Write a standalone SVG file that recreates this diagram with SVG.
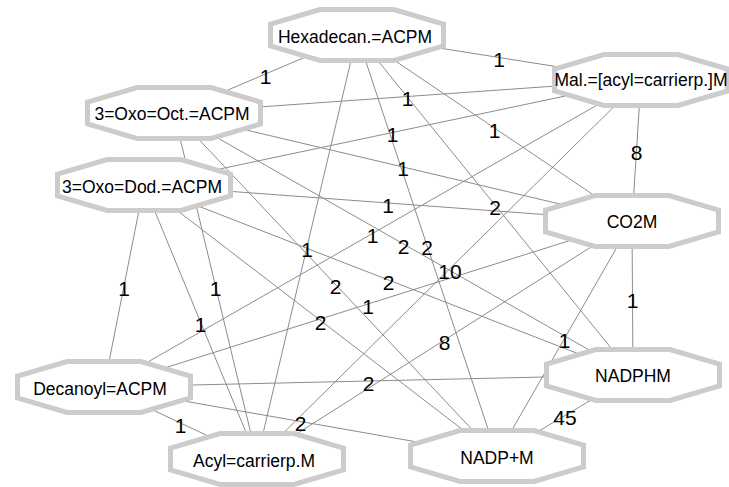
<svg xmlns="http://www.w3.org/2000/svg" xmlns:xlink="http://www.w3.org/1999/xlink" width="729" height="487" viewBox="0 0 729 487">
  <style>
    .edge { stroke: #8c8c8c; stroke-width: 1; fill: none; }
    .elabel { font-family: "Liberation Sans", Arial, sans-serif; font-size: 21px; fill: #000; text-anchor: middle; }
    .node { fill: #fff; stroke: #cccccc; stroke-width: 5; stroke-linejoin: miter; }
    .nlabel { font-family: "Liberation Sans", Arial, sans-serif; font-size: 17.5px; fill: #000; text-anchor: middle; }
  </style>
  <defs>
    <polygon id="oct" class="node" points="-37,-25.5 37,-25.5 86.5,-11 86.5,11 37,25.5 -37,25.5 -86.5,11 -86.5,-11"/>
  </defs>
  <rect width="729" height="487" fill="#fff"/>

  <!-- connectors, centre to centre; the node shapes cover the ends -->
  <g id="edges">
    <line class="edge" x1="357" y1="35" x2="174" y2="113"/>
    <line class="edge" x1="357" y1="35" x2="641" y2="80"/>
    <line class="edge" x1="357" y1="35" x2="257" y2="459"/>
    <line class="edge" x1="357" y1="35" x2="497" y2="456"/>
    <line class="edge" x1="357" y1="35" x2="633" y2="375"/>
    <line class="edge" x1="357" y1="35" x2="632" y2="221"/>
    <line class="edge" x1="641" y1="80" x2="174" y2="113"/>
    <line class="edge" x1="641" y1="80" x2="144" y2="185"/>
    <line class="edge" x1="641" y1="80" x2="632" y2="221"/>
    <line class="edge" x1="641" y1="80" x2="104" y2="387"/>
    <line class="edge" x1="641" y1="80" x2="257" y2="459"/>
    <line class="edge" x1="174" y1="113" x2="632" y2="221"/>
    <line class="edge" x1="174" y1="113" x2="257" y2="459"/>
    <line class="edge" x1="174" y1="113" x2="633" y2="375"/>
    <line class="edge" x1="174" y1="113" x2="497" y2="456"/>
    <line class="edge" x1="144" y1="185" x2="632" y2="221"/>
    <line class="edge" x1="144" y1="185" x2="104" y2="387"/>
    <line class="edge" x1="144" y1="185" x2="257" y2="459"/>
    <line class="edge" x1="144" y1="185" x2="633" y2="375"/>
    <line class="edge" x1="144" y1="185" x2="497" y2="456"/>
    <line class="edge" x1="632" y1="221" x2="633" y2="375"/>
    <line class="edge" x1="632" y1="221" x2="104" y2="387"/>
    <line class="edge" x1="632" y1="221" x2="257" y2="459"/>
    <line class="edge" x1="632" y1="221" x2="497" y2="456"/>
    <line class="edge" x1="104" y1="387" x2="257" y2="459"/>
    <line class="edge" x1="104" y1="387" x2="633" y2="375"/>
    <line class="edge" x1="104" y1="387" x2="497" y2="456"/>
    <line class="edge" x1="633" y1="375" x2="497" y2="456"/>
  </g>

  <!-- connector weights at the midpoints -->
  <g id="edge-labels">
    <text class="elabel" x="265.5" y="83.5">1</text>
    <text class="elabel" x="499" y="67">1</text>
    <text class="elabel" x="307" y="256.5">1</text>
    <text class="elabel" x="427" y="255">2</text>
    <text class="elabel" x="495" y="214.5">2</text>
    <text class="elabel" x="494.5" y="137.5">1</text>
    <text class="elabel" x="407.5" y="106">1</text>
    <text class="elabel" x="392.5" y="142">1</text>
    <text class="elabel" x="636.5" y="160">8</text>
    <text class="elabel" x="372.5" y="243">1</text>
    <text class="elabel" x="450" y="279">10</text>
    <text class="elabel" x="403" y="176">1</text>
    <text class="elabel" x="215.5" y="295.5">1</text>
    <text class="elabel" x="403.5" y="253.5">2</text>
    <text class="elabel" x="335.5" y="294">2</text>
    <text class="elabel" x="388" y="212.5">1</text>
    <text class="elabel" x="124" y="295.5">1</text>
    <text class="elabel" x="200.5" y="331.5">1</text>
    <text class="elabel" x="388.5" y="289.5">2</text>
    <text class="elabel" x="320.5" y="330">2</text>
    <text class="elabel" x="632.5" y="307.5">1</text>
    <text class="elabel" x="368" y="313.5">1</text>
    <text class="elabel" x="444.5" y="349.5">8</text>
    <text class="elabel" x="564.5" y="348">1</text>
    <text class="elabel" x="180.5" y="432.5">1</text>
    <text class="elabel" x="368.5" y="390.5">2</text>
    <text class="elabel" x="300.5" y="431">2</text>
    <text class="elabel" x="565" y="425">45</text>
  </g>

  <!-- nodes -->
  <g id="n-hexadecan">
    <use xlink:href="#oct" href="#oct" x="357" y="35"/>
    <text class="nlabel" x="355" y="43">Hexadecan.=ACPM</text>
  </g>
  <g id="n-mal">
    <use xlink:href="#oct" href="#oct" x="641" y="80"/>
    <text class="nlabel" x="641" y="86">Mal.=[acyl=carrierp.]M</text>
  </g>
  <g id="n-oxo-oct">
    <use xlink:href="#oct" href="#oct" x="174" y="113"/>
    <text class="nlabel" x="172" y="120">3=Oxo=Oct.=ACPM</text>
  </g>
  <g id="n-oxo-dod">
    <use xlink:href="#oct" href="#oct" x="144" y="185"/>
    <text class="nlabel" x="142" y="193">3=Oxo=Dod.=ACPM</text>
  </g>
  <g id="n-co2">
    <use xlink:href="#oct" href="#oct" x="632" y="221"/>
    <text class="nlabel" x="632" y="228">CO2M</text>
  </g>
  <g id="n-decanoyl">
    <use xlink:href="#oct" href="#oct" x="104" y="387"/>
    <text class="nlabel" x="100" y="395">Decanoyl=ACPM</text>
  </g>
  <g id="n-acyl">
    <use xlink:href="#oct" href="#oct" x="257" y="459"/>
    <text class="nlabel" x="254" y="467">Acyl=carrierp.M</text>
  </g>
  <g id="n-nadp">
    <use xlink:href="#oct" href="#oct" x="497" y="456"/>
    <text class="nlabel" x="497" y="464">NADP+M</text>
  </g>
  <g id="n-nadph">
    <use xlink:href="#oct" href="#oct" x="633" y="375"/>
    <text class="nlabel" x="633" y="382">NADPHM</text>
  </g>
</svg>
